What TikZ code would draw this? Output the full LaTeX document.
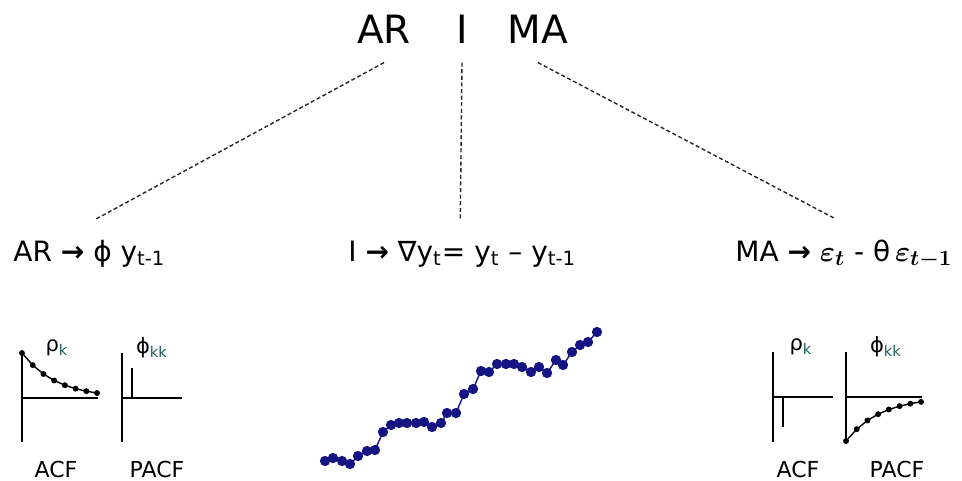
\documentclass[tikz,border=0pt]{standalone}
\usepackage{fontspec}
\usepackage{bm}
\setmainfont{DejaVu Sans}
\usetikzlibrary{positioning}
\definecolor{seriesblue}{RGB}{20,20,130}
\definecolor{subteal}{RGB}{30,95,95}
\newcommand{\bigeps}[1]{{\fontsize{15}{18}\selectfont$\bm{\varepsilon_{#1}}$}}

\begin{document}
\begin{tikzpicture}[x=0.5pt, y=-0.5pt,
  title/.style={font=\fontsize{19.5}{22}\selectfont, inner xsep=4pt, inner ysep=9.5pt},
  formula/.style={font=\fontsize{14}{16}\selectfont, inner xsep=4pt, inner ysep=10pt, anchor=base west},
  glabel/.style={font=\fontsize{10.5}{12}\selectfont, inner sep=0pt},
  clabel/.style={font=\fontsize{11}{13}\selectfont, inner sep=0pt},
  link/.style={dash pattern=on 2pt off 1.3pt, line width=0.7pt, black!85},
  axis/.style={line width=1pt},
  decay/.style={line width=0.7pt, mark=*, mark size=1.1pt}
]
  \useasboundingbox (0,0) rectangle (962,481);

  % Top labels
  \node[title] (ar) at (384,29) {AR};
  \node[title] (i)  at (462,29) {I};
  \node[title] (ma) at (538,29) {MA};

  % Formulas
  \node[formula] (arEq) at (5,261)
    {AR \textbf{→} ϕ y\textsubscript{t-1}};
  \node[formula] (iEq) at (340,261)
    {I \textbf{→} ∇y\textsubscript{t}= y\textsubscript{t} – y\textsubscript{t-1}};
  \node[formula] (maEq) at (727,261)
    {MA \textbf{→} \bigeps{t} - θ\,\bigeps{t-1}};

  % Dashed links
  \draw[link] (ar.south) -- ([xshift=3pt]arEq.north);
  \draw[link] (i.south)  -- ([xshift=-1pt]iEq.north);
  \draw[link] (ma.south) -- ([xshift=-4pt]maEq.north);

  % AR: ACF decays, PACF cuts off
  \draw[axis] (22,353) -- (22,442);
  \draw[axis] (22,398) -- (98,398);
  \draw[decay] plot[domain=0:1, samples=8] ({22+75*\x},{398-45*exp(-2.2*\x)});
  \draw[axis] (122,353) -- (122,442);
  \draw[axis] (122,398) -- (182,398);
  \draw[axis] (132,368) -- (132,398);
  \node[glabel] (arRho) at (57,348) {ρ\textsubscript{\color{subteal}k}};
  \node[glabel] (arPhi) at (152,348) {ϕ\textsubscript{\color{subteal}kk}};
  \node[clabel] (arAcf)  at (56,469) {ACF};
  \node[clabel] (arPacf) at (157,469) {PACF};

  % I: trending series
  \draw[seriesblue, line width=0.7pt] plot[mark=*, mark size=2.2pt] coordinates {
    (325,461) (333,458) (342,461) (350,464) (358,456) (367,451) (375,450)
    (383,432) (391,425) (399,423) (407,423) (416,423) (424,422) (432,427)
    (441,423) (447,413) (456,413) (464,394) (473,389) (481,371) (489,372)
    (497,364) (506,364) (514,364) (522,367) (531,372) (539,367) (547,373)
    (556,360) (563,365) (572,352) (580,345) (588,342) (597,332)};

  % MA: ACF cuts off, PACF decays
  \draw[axis] (773,352) -- (773,442);
  \draw[axis] (773,397) -- (833,397);
  \draw[axis] (783,397) -- (783,427);
  \draw[axis] (846,352) -- (846,441);
  \draw[axis] (846,397) -- (922,397);
  \draw[decay] plot[domain=0:1, samples=8] ({846+75*\x},{397+44*exp(-2.2*\x)});
  \node[glabel] (maRho) at (801,347) {ρ\textsubscript{\color{subteal}k}};
  \node[glabel] (maPhi) at (886,347) {ϕ\textsubscript{\color{subteal}kk}};
  \node[clabel] (maAcf)  at (798,469) {ACF};
  \node[clabel] (maPacf) at (897,469) {PACF};

\end{tikzpicture}
\end{document}
